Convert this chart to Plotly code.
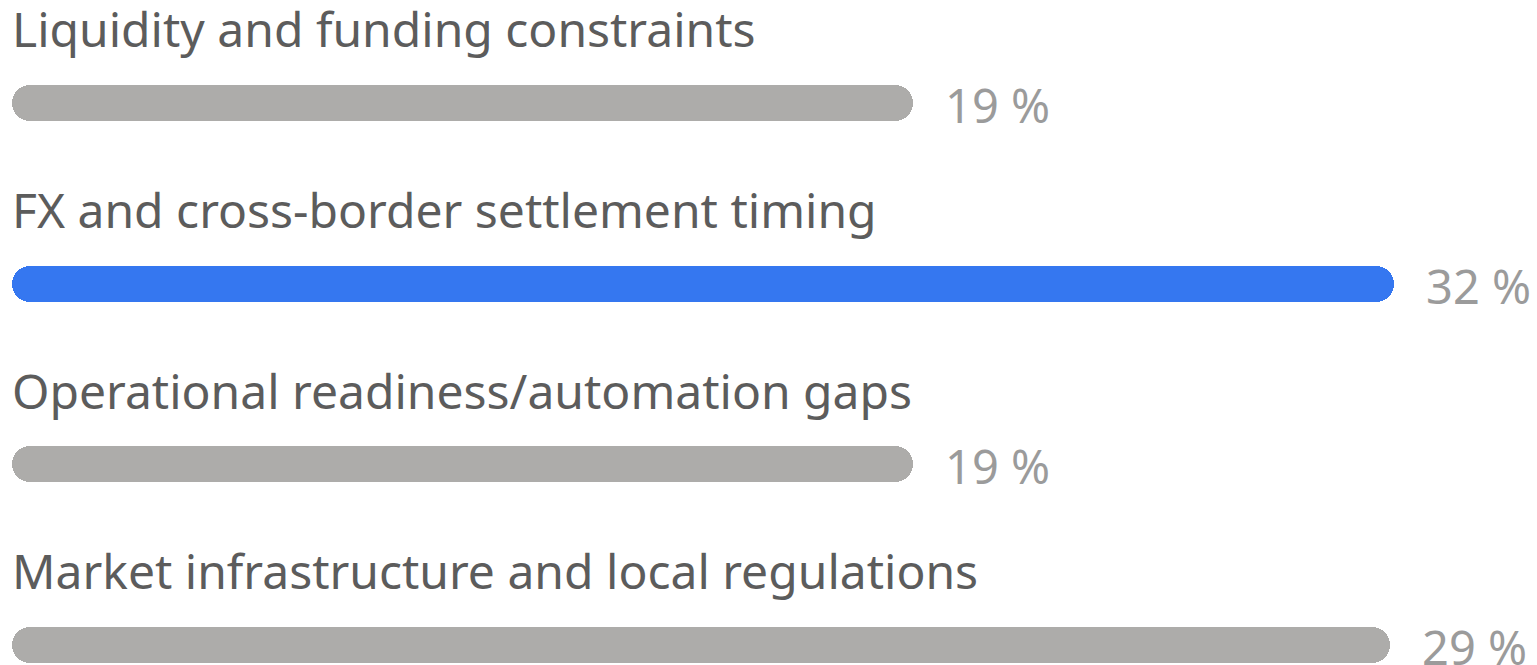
import plotly.graph_objects as go

categories = [
    "Liquidity and funding constraints",
    "FX and cross-border settlement timing",
    "Operational readiness/automation gaps",
    "Market infrastructure and local regulations",
]
pct_labels = [19, 32, 19, 29]
# relative bar lengths (longest bar = 100)
bar_scores = [65.2, 100, 65.2, 99.7]
highlight = [False, True, False, False]

GRAY = "#adacaa"
BLUE = "#3577f0"
LABEL = "#5c5c5c"
VALUE = "#9b9b9b"
FONT = "Noto Sans"

ypos = list(range(len(categories)))
colors = [BLUE if h else GRAY for h in highlight]

fig = go.Figure()
fig.add_trace(go.Bar(
    y=ypos, x=bar_scores, base=[0] * len(bar_scores), orientation="h",
    marker=dict(color=colors, cornerradius=18, line=dict(width=0)),
    width=0.2, hoverinfo="skip", showlegend=False,
))

for i, (cat, p, v) in enumerate(zip(categories, pct_labels, bar_scores)):
    fig.add_annotation(
        x=0, y=i, xref="x", yref="y", text=cat, showarrow=False,
        xanchor="left", yanchor="middle", xshift=-2, yshift=74,
        font=dict(family=FONT, size=48, color=LABEL),
    )
    fig.add_annotation(
        x=v, y=i, xref="x", yref="y", text=f"{p} %", showarrow=False,
        xanchor="left", yanchor="middle", xshift=30, yshift=-2,
        font=dict(family=FONT, size=47, color=VALUE),
    )

fig.update_layout(
    width=1537, height=665,
    margin=dict(l=12, r=0, t=0, b=0),
    paper_bgcolor="white", plot_bgcolor="white",
    barmode="overlay", bargap=0,
    xaxis=dict(range=[0, 110.35], visible=False, fixedrange=True),
    yaxis=dict(range=[3.111, -0.570], visible=False, fixedrange=True),
    font=dict(family=FONT),
)

fig.write_html(
    "out.html",
    config={"displayModeBar": False},
    post_script="document.body.style.margin='0';document.body.style.overflow='hidden';",
)
